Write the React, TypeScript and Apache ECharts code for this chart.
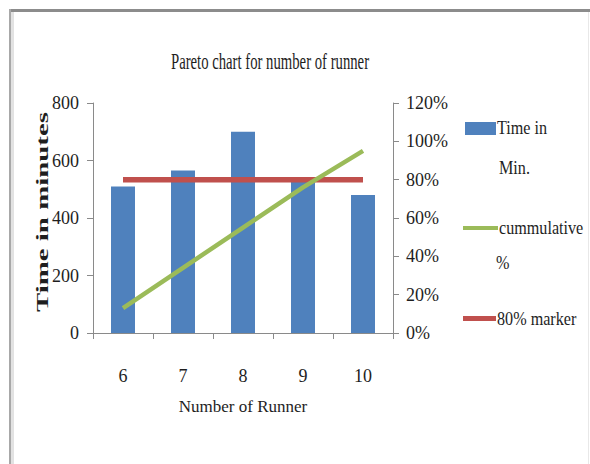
import React, { useEffect, useRef } from "react";
import * as echarts from "echarts";

// Runner counts on the category axis
const categories = ["6", "7", "8", "9", "10"];
// Time in minutes for each runner count (bars, left axis)
const timeInMin = [510, 565, 700, 525, 480];
// Cumulative percentage (right axis)
const cumulativePct = [13, 34, 55, 76, 95];
// Constant 80% reference line (right axis)
const markerPct = [80, 80, 80, 80, 80];

const SERIF = "'Liberation Serif', 'Times New Roman', serif";
const TEXT = "#1e1e1e";
const AXIS = "#8a8a8a";

const BLUE = "#4F81BD";
const GREEN = "#9BBB59";
const RED = "#C0504D";

function label(text: string, x: number, y: number, size = 19, sx = 0.85) {
  return {
    type: "text",
    x,
    y,
    scaleX: sx,
    silent: true,
    style: {
      text,
      fill: TEXT,
      fontFamily: SERIF,
      fontSize: size,
      align: "left",
      verticalAlign: "middle",
      textAlign: "left",
      textVerticalAlign: "middle",
    },
  };
}

export default function App() {
  const ref = useRef<HTMLDivElement>(null);

  useEffect(() => {
    if (!ref.current) return;
    const chart = echarts.init(ref.current, undefined, { renderer: "svg" });

    chart.setOption({
      animation: false,
      backgroundColor: "#ffffff",
      grid: {
        left: 93,
        right: 197,
        top: 103,
        bottom: 131,
        containLabel: false,
        outerBoundsMode: "none",
      },
      xAxis: {
        type: "category",
        data: categories,
        name: "Number of Runner",
        nameLocation: "middle",
        nameGap: 65,
        nameTextStyle: { fontFamily: SERIF, fontSize: 17, color: TEXT },
        axisLine: { lineStyle: { color: AXIS, width: 1 } },
        axisTick: { show: true, length: 6, lineStyle: { color: AXIS } },
        axisLabel: { fontFamily: SERIF, fontSize: 18, color: TEXT, margin: 34 },
        splitLine: { show: false },
      },
      yAxis: [
        {
          type: "value",
          min: 0,
          max: 800,
          interval: 200,
          axisLine: { show: true, lineStyle: { color: AXIS, width: 1 } },
          axisTick: { show: true, length: 6, lineStyle: { color: AXIS } },
          axisLabel: { fontFamily: SERIF, fontSize: 18, color: TEXT, margin: 14 },
          splitLine: { show: false },
        },
        {
          type: "value",
          position: "right",
          min: 0,
          max: 120,
          interval: 20,
          axisLine: { show: true, lineStyle: { color: AXIS, width: 1 } },
          axisTick: { show: true, length: 6, lineStyle: { color: AXIS } },
          axisLabel: {
            fontFamily: SERIF,
            fontSize: 18,
            color: TEXT,
            margin: 13,
            formatter: (v: number) => `${v}%`,
          },
          splitLine: { show: false },
        },
      ],
      series: [
        {
          name: "Time in Min.",
          type: "bar",
          yAxisIndex: 0,
          data: timeInMin,
          barWidth: 24,
          itemStyle: { color: BLUE },
        },
        {
          name: "80% marker",
          type: "line",
          yAxisIndex: 1,
          data: markerPct,
          showSymbol: false,
          symbol: "none",
          lineStyle: { color: RED, width: 5.5 },
          itemStyle: { color: RED },
        },
        {
          name: "cummulative %",
          type: "line",
          yAxisIndex: 1,
          data: cumulativePct,
          showSymbol: false,
          symbol: "none",
          lineStyle: { color: GREEN, width: 4.5 },
          itemStyle: { color: GREEN },
        },
      ],
      graphic: [
        // chart frame
        { type: "rect", silent: true, shape: { x: 9, y: 9, width: 581, height: 3 }, style: { fill: "#8c8c8c" } },
        { type: "rect", silent: true, shape: { x: 9, y: 9, width: 2, height: 455 }, style: { fill: "#a8a8a8" } },
        { type: "rect", silent: true, shape: { x: 11, y: 12, width: 3, height: 452 }, style: { fill: "#e2e2e2" } },
        { type: "rect", silent: true, shape: { x: 588, y: 12, width: 1, height: 452 }, style: { fill: "#e8e8e8" } },
        // title
        {
          type: "text",
          x: 270,
          y: 61,
          scaleX: 0.64,
          silent: true,
          style: {
            text: "Pareto chart for number of runner",
            fill: TEXT,
            fontFamily: SERIF,
            fontSize: 23,
            align: "center",
            verticalAlign: "middle",
            textAlign: "center",
            textVerticalAlign: "middle",
          },
        },
        // left axis title, widely spaced along the axis
        {
          type: "text",
          x: 42,
          y: 212,
          rotation: Math.PI / 2,
          scaleX: 1.7,
          silent: true,
          style: {
            text: "Time in minutes",
            fill: TEXT,
            fontFamily: SERIF,
            fontSize: 17,
            fontWeight: "bold",
            align: "center",
            verticalAlign: "middle",
            textAlign: "center",
            textVerticalAlign: "middle",
          },
        },
        // legend
        { type: "rect", silent: true, shape: { x: 465, y: 122, width: 31, height: 13 }, style: { fill: BLUE } },
        label("Time in", 497, 128),
        label("Min.", 499, 168),
        { type: "rect", silent: true, shape: { x: 463, y: 226, width: 35, height: 4 }, style: { fill: GREEN } },
        label("cummulative", 499, 228),
        label("%", 496, 263),
        { type: "rect", silent: true, shape: { x: 463, y: 316, width: 33, height: 5 }, style: { fill: RED } },
        label("80% marker", 497, 319),
      ],
    });

    return () => chart.dispose();
  }, []);

  return (
    <div
      ref={ref}
      style={{ position: "fixed", left: 0, top: 0, width: 590, height: 464, background: "#fff" }}
    />
  );
}
